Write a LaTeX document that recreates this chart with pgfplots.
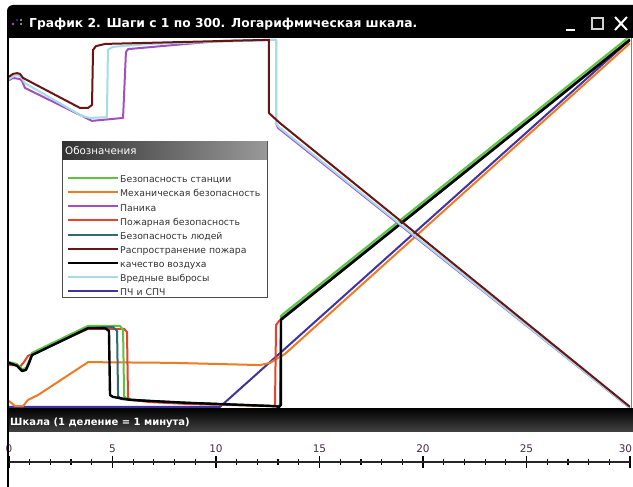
\documentclass[border=0pt]{standalone}
\usepackage{fontspec}
\setmainfont{DejaVu Sans}
\usepackage{pgfplots}
\pgfplotsset{compat=1.18}
\definecolor{cGreen}{HTML}{5CC43C}
\definecolor{cOrange}{HTML}{F07A22}
\definecolor{cPurple}{HTML}{A050C0}
\definecolor{cRed}{HTML}{E8422C}
\definecolor{cTeal}{HTML}{2E6B72}
\definecolor{cDark}{HTML}{6B1414}
\definecolor{cCyan}{HTML}{A6DCE8}
\definecolor{cIndigo}{HTML}{4232A0}
\definecolor{lblcol}{HTML}{4A2A48}
\begin{document}
\begin{tikzpicture}
\useasboundingbox (0pt,0pt) rectangle (633pt,-487pt);
\fill[white] (0pt,0pt) rectangle (633pt,-487pt);
% legend box (drawn behind the plot)
\fill[white] (62pt,-160pt) rectangle (267pt,-297pt);
\draw[black!70, line width=1pt] (62pt,-142pt) rectangle (267pt,-297pt);
\shade[left color=black!80, right color=black!40] (62pt,-142pt) rectangle (267pt,-160pt);
\node[anchor=base west, text=white, font=\fontsize{10.3}{12}\selectfont, inner sep=0pt] at (65pt,-155pt) {Обозначения};
\begin{axis}[at={(9pt,-408pt)}, anchor=south west, scale only axis,
  width=621pt, height=370pt, xmin=0, xmax=30, ymin=0, ymax=100,
  axis lines=none, clip=true,
  every axis plot/.append style={line width=2pt, line join=round},
  legend style={at={(axis description cs:0.0926,0.632)}, anchor=north west,
    draw=none, fill=none, inner sep=0pt, row sep=1.6pt,
    font=\fontsize{9.3}{11}\selectfont, text=black!80,
    nodes={inner sep=1.5pt, text height=7pt, text depth=2.5pt},
    cells={anchor=west}},
  legend image code/.code={\draw[#1, line width=2pt] (0pt,2.5pt) -- (50pt,2.5pt);},
]
% z-order of the drawn series
\addplot[cIndigo, forget plot] coordinates {(0,0.3) (10.19,0.3) (30,99.5)};
\addplot[cOrange, forget plot] coordinates {(0,1.9) (0.29,0.5) (0.68,0.5) (0.92,2.2) (1.40,3.5) (3.82,12.4) (7.92,12.2) (12.13,11.6) (12.61,12.2) (13.33,14.6) (30,98.6)};
\addplot[cRed, forget plot] coordinates {(0,11.6) (0.29,11.6) (0.53,11.1) (0.72,12.4) (0.92,14.1) (3.82,21.4) (5.56,21.4) (5.70,20.5) (5.75,2.7) (5.89,2.2) (6.81,1.6) (8.60,1.1) (12.80,0.5) (12.85,0.8) (12.90,22.4) (13.04,23.5) (13.24,24.3) (30,99.5)};
\addplot[cGreen, forget plot] coordinates {(0,12.4) (0.39,11.9) (0.63,10.5) (0.82,10.8) (0.97,12.7) (1.11,14.9) (3.82,22.2) (5.36,22.2) (5.51,21.1) (5.56,3.2) (5.70,2.4) (6.81,1.9) (8.60,1.4) (12.85,0.5) (13.09,0.5) (13.14,24.9) (13.24,25.4) (30,100.5)};
\addplot[cTeal, forget plot] coordinates {(0,12.2) (0.39,11.4) (0.63,10.0) (0.82,10.3) (0.97,12.2) (1.11,14.3) (3.82,21.6) (5.02,21.9) (5.22,20.8) (5.27,3.2) (5.41,2.4) (6.81,1.9) (8.60,1.4) (12.85,0.5) (13.09,0.5) (13.14,24.1) (13.24,24.6) (30,99.7)};
\addplot[black, line width=2.4pt, forget plot] coordinates {(0,12.2) (0.39,11.4) (0.63,10.0) (0.82,10.3) (0.97,12.2) (1.11,14.3) (3.82,21.6) (4.64,21.6) (4.83,20.8) (4.88,3.5) (5.02,3.0) (5.85,2.2) (6.81,1.9) (8.60,1.4) (12.85,0.5) (13.04,0.3) (13.14,0.8) (13.14,23.8) (13.24,24.3) (30,99.5)};
\addplot[cPurple, forget plot] coordinates {(0,88.6) (0.19,89.2) (0.53,88.9) (0.63,88.4) (0.77,86.5) (4.01,77.6) (5.51,78.4) (5.65,96.2) (5.75,97.0) (10.19,99.2) (12.90,99.5) (12.90,77.0) (13.00,75.7) (30,0)};
\addplot[cCyan, forget plot] coordinates {(0,88.9) (0.24,89.7) (0.43,90.0) (0.58,89.5) (0.77,87.8) (3.53,78.9) (3.91,78.4) (4.73,78.6) (4.78,96.8) (5.02,97.6) (6.81,98.4) (12.90,99.5) (12.90,77.0) (13.04,75.9) (30,0)};
\addplot[cDark, forget plot] coordinates {(0,89.5) (0.19,90.3) (0.39,90.5) (0.53,90.3) (0.68,89.2) (3.43,81.1) (3.82,81.1) (4.01,81.9) (4.06,96.8) (4.20,97.8) (4.64,98.4) (8.26,98.9) (12.56,99.5) (12.56,79.7) (13.09,77.0) (30,0.3)};
% legend in its own order
\addlegendimage{cGreen}\addlegendentry{Безопасность станции}
\addlegendimage{cOrange}\addlegendentry{Механическая безопасность}
\addlegendimage{cPurple}\addlegendentry{Паника}
\addlegendimage{cRed}\addlegendentry{Пожарная безопасность}
\addlegendimage{cTeal}\addlegendentry{Безопасность людей}
\addlegendimage{cDark}\addlegendentry{Распространение пожара}
\addlegendimage{black}\addlegendentry{качество воздуха}
\addlegendimage{cCyan}\addlegendentry{Вредные выбросы}
\addlegendimage{cIndigo}\addlegendentry{ПЧ и СПЧ}
\end{axis}
% scale axis
\begin{axis}[at={(9pt,-462pt)}, anchor=north west, scale only axis,
  width=621pt, height=10pt, xmin=0, xmax=30, ymin=0, ymax=1,
  axis x line*=top, axis y line=none,
  xtick={0,5,...,30}, minor xtick={0,1,...,30},
  xticklabels={0,5,10,15,20,25,{\hspace*{-9pt}30}},
  tick align=center, major tick length=12pt, minor tick length=6pt,
  every tick/.style={black, line width=1.2pt},
  axis line style={black!85, line width=1.5pt},
  /pgf/number format/assume math mode=true,
  xticklabel style={font=\fontsize{10.5}{12}\selectfont, text=lblcol},
]
\addplot[draw=none] coordinates {(0,0.5)};
\end{axis}
% frames and bars
\draw[gray, line width=1pt] (631pt,-38pt) -- (631pt,-408pt);
\shade[top color=black, bottom color=black!75] (7pt,-408pt) rectangle (633pt,-431pt);
\node[anchor=base west, text=white, font=\bfseries\fontsize{10}{12}\selectfont, inner sep=0pt] at (10pt,-425pt) {Шкала (1 деление = 1 минута)};
\fill[black] (7pt,-38pt) [rounded corners=6pt] -- (7pt,-5pt) [sharp corners] -- (633pt,-5pt) -- (633pt,-38pt) -- cycle;
\node[anchor=base west, text=white, font=\bfseries\fontsize{12.3}{15}\selectfont, inner sep=0pt] at (29pt,-28pt) {График 2. Шаги с 1 по 300. Логарифмическая шкала.};
\fill[cPurple] (13pt,-24pt) circle (1.3pt);
\fill[cIndigo] (17pt,-20pt) circle (1.1pt);
\fill[gray!60] (21pt,-24pt) circle (1.1pt);
\fill[gray!60] (21pt,-20pt) circle (1.1pt);
\draw[white, line width=2pt] (566pt,-30pt) -- (575pt,-30pt);
\draw[gray!35, line width=1.4pt] (592pt,-18pt) rectangle (603pt,-29pt);
\draw[white, line width=2pt] (615pt,-17pt) -- (627pt,-30pt) (627pt,-17pt) -- (615pt,-30pt);
\draw[black, line width=2.5pt] (8pt,-38pt) -- (8pt,-487pt);
\end{tikzpicture}
\end{document}
